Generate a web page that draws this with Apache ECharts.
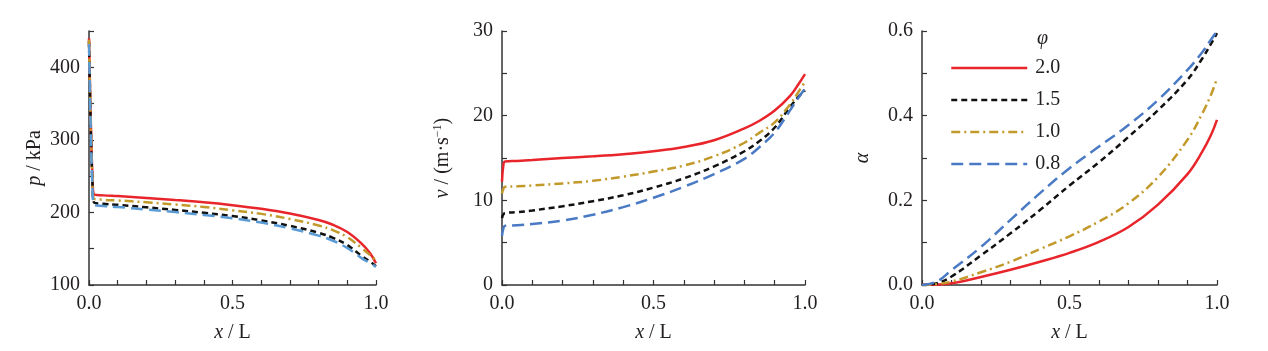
<!DOCTYPE html>
<html>
<head>
<meta charset="utf-8">
<script src="https://cdn.jsdelivr.net/npm/echarts@6/dist/echarts.min.js"></script>
<style>
  html, body { margin: 0; padding: 0; background: #fff; }
  #chart { width: 1268px; height: 351px; }
</style>
</head>
<body>
<div id="chart"></div>
<script>
// legend names (phi)
const phiNames = ['2.0', '1.5', '1.0', '0.8']

// panel a: pressure p / kPa
const xP = [0, 0.006, 0.012, 0.017, 0.05, 0.1, 0.2, 0.3, 0.4, 0.5, 0.6, 0.7, 0.8, 0.85, 0.9, 0.95, 0.98, 1.0]
const pRed = [440, 330, 250, 225, 223.5, 222.5, 220, 217, 214, 210, 205, 198.5, 189.5, 183, 173, 157, 143.5, 130]
const pBlack = [436, 320, 240, 214, 212, 210.5, 207, 203.5, 199.5, 195, 189, 181.5, 172, 165, 155, 140, 132, 126]
const pGold = [438, 325, 245, 219, 217.5, 216.5, 214, 211, 207.5, 203, 198, 191, 182, 175.5, 166, 151, 141, 134]
const pBlue = [432, 315, 235, 211, 209, 207.5, 204, 200.5, 196.5, 192, 186, 178, 168, 161, 151, 137, 130, 125]

// panel b: velocity v / (m/s)
const xV = [0, 0.004, 0.01, 0.05, 0.1, 0.2, 0.3, 0.4, 0.5, 0.6, 0.7, 0.8, 0.85, 0.9, 0.95, 0.98, 1.0]
const vRed = [12.2, 14.0, 14.6, 14.65, 14.75, 15.0, 15.2, 15.45, 15.8, 16.3, 17.1, 18.5, 19.4, 20.6, 22.3, 23.8, 24.9]
const vBlack = [7.9, 8.3, 8.5, 8.6, 8.8, 9.3, 9.9, 10.6, 11.5, 12.6, 14.0, 15.8, 17.0, 18.6, 21.0, 22.3, 23.0]
const vGold = [10.8, 11.3, 11.6, 11.65, 11.75, 12.0, 12.3, 12.8, 13.4, 14.1, 15.2, 16.8, 18.0, 19.2, 21.3, 22.9, 24.0]
const vBlue = [5.8, 6.6, 7.0, 7.05, 7.2, 7.6, 8.3, 9.2, 10.3, 11.6, 13.1, 14.9, 16.3, 18.0, 20.6, 22.2, 23.2]

// panel c: alpha
const xA = [0, 0.05, 0.1, 0.2, 0.3, 0.4, 0.5, 0.6, 0.7, 0.8, 0.9, 0.95, 0.98, 1.0]
const aRed = [0, 0.001, 0.004, 0.019, 0.036, 0.055, 0.076, 0.102, 0.137, 0.19, 0.262, 0.315, 0.355, 0.39]
const aBlack = [0, 0.004, 0.02, 0.07, 0.122, 0.177, 0.235, 0.29, 0.35, 0.413, 0.485, 0.535, 0.57, 0.595]
const aGold = [0, 0.002, 0.008, 0.03, 0.055, 0.085, 0.115, 0.15, 0.193, 0.255, 0.343, 0.405, 0.45, 0.488]
const aBlue = [0, 0.008, 0.035, 0.09, 0.154, 0.217, 0.276, 0.327, 0.378, 0.437, 0.508, 0.55, 0.58, 0.6]

const FONT = '"Liberation Serif", "Times New Roman", serif'
const FS = 20
const TXT = '#231f20'

const styles = [
  { color: '#e8252b', type: 'solid' },
  { color: '#111111', type: [6, 4] },
  { color: '#c29a2c', type: [9, 4, 2, 4] },
  { color: '#4a7ac4', type: [12, 6] },
]

const pair = (xs, ys) => xs.map((x, i) => [x, ys[i]])
const italic = { fontFamily: FONT, fontSize: FS, fontStyle: 'italic', color: TXT }

const xAxisFor = (gridIndex) => ({
  type: 'value',
  gridIndex,
  min: 0,
  max: 1,
  interval: 0.1,
  name: '{i|x} / L',
  nameLocation: 'middle',
  nameGap: 38,
  nameTextStyle: { fontFamily: FONT, fontSize: FS, color: TXT, rich: { i: italic } },
  axisLine: { lineStyle: { color: '#333', width: 1.5 } },
  axisTick: { inside: true, length: 5, lineStyle: { color: '#333', width: 1.2 } },
  splitLine: { show: false },
  axisLabel: {
    fontFamily: FONT, fontSize: FS, color: TXT, margin: 9,
    formatter: (v) => (Math.round(v * 10) % 5 === 0 ? v.toFixed(1) : ''),
  },
})

const yAxisFor = (gridIndex, min, max, interval, labelStep, digits, name, nameGap, rich) => ({
  type: 'value',
  gridIndex,
  min,
  max,
  interval,
  name,
  nameLocation: 'middle',
  nameRotate: 90,
  nameGap,
  nameTextStyle: { fontFamily: FONT, fontSize: FS, color: TXT, rich },
  axisLine: { show: true, lineStyle: { color: '#333', width: 1.5 } },
  axisTick: { inside: true, length: 5, lineStyle: { color: '#333', width: 1.2 } },
  splitLine: { show: false },
  axisLabel: {
    fontFamily: FONT, fontSize: FS, color: TXT, margin: 9,
    formatter: (v) => {
      const k = Math.round(v / interval)
      return k % labelStep === 0 ? v.toFixed(digits) : ''
    },
  },
})

const lineSeries = (name, idx, data, s, color) => ({
  type: 'line',
  name,
  xAxisIndex: idx,
  yAxisIndex: idx,
  data,
  smooth: 0.4,
  symbol: 'none',
  lineStyle: { color: color || s.color, width: 2.5, type: s.type },
  itemStyle: { color: color || s.color },
})

const chart = echarts.init(document.getElementById('chart'))

const series = []
// panel c first so the legend takes its styles
;[aRed, aBlack, aGold, aBlue].forEach((ys, i) => series.push(lineSeries(phiNames[i], 2, pair(xA, ys), styles[i])))
;[pRed, pBlack, pGold, pBlue].forEach((ys, i) =>
  series.push(lineSeries('p ' + phiNames[i], 0, pair(xP, ys), styles[i], i === 3 ? '#5b9bd5' : null)))
;[vRed, vBlack, vGold, vBlue].forEach((ys, i) => series.push(lineSeries('v ' + phiNames[i], 1, pair(xV, ys), styles[i])))

chart.setOption({
  animation: false,
  backgroundColor: '#ffffff',
  title: {
    text: 'φ',
    left: 1032,
    top: 24,
    textStyle: { fontFamily: FONT, fontSize: FS, fontStyle: 'italic', fontWeight: 'normal', color: TXT },
  },
  legend: {
    data: phiNames,
    orient: 'vertical',
    left: 945,
    top: 53,
    itemWidth: 76,
    itemHeight: 12,
    itemGap: 12,
    itemStyle: { opacity: 0 },
    lineStyle: { width: 2.5 },
    textStyle: { fontFamily: FONT, fontSize: FS, color: TXT, padding: [0, 0, 0, 3] },
  },
  grid: [
    { left: 89, top: 31, width: 287, height: 254 },
    { left: 502, top: 31, width: 303, height: 254 },
    { left: 922, top: 31, width: 295, height: 254 },
  ],
  xAxis: [xAxisFor(0), xAxisFor(1), xAxisFor(2)],
  yAxis: [
    yAxisFor(0, 100, 450, 50, 2, 0, '{i|p} / kPa', 44, { i: italic }),
    yAxisFor(1, 0, 30, 5, 2, 0, '{i|v} / (m·s{sup|−1})', 49, {
      i: italic,
      sup: { fontFamily: FONT, fontSize: 12, color: TXT, verticalAlign: 'top', padding: [0, 0, 9, 0] },
    }),
    yAxisFor(2, 0, 0.6, 0.1, 2, 1, '{i|α}', 49, { i: italic }),
  ],
  series,
})
</script>
</body>
</html>
